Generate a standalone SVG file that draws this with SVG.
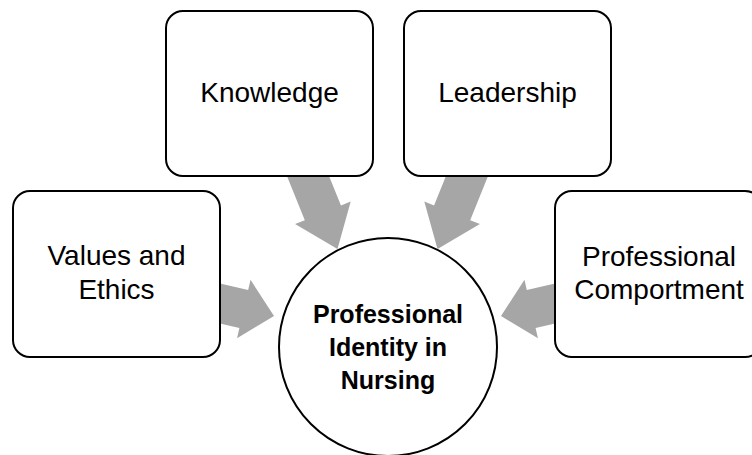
<svg xmlns="http://www.w3.org/2000/svg" width="752" height="455" viewBox="0 0 752 455">
<defs>
<style>
.arrow{fill:#A6A6A6;stroke:none}
.box{fill:#FFFFFF;stroke:#000000;stroke-width:2}
.lbl{font-family:"Liberation Sans",Arial,sans-serif;font-size:28px;fill:#000000;text-anchor:middle}
.ctr{font-family:"Liberation Sans",Arial,sans-serif;font-size:25px;font-weight:bold;fill:#000000;text-anchor:middle}
</style>
<polygon id="headS" points="0,0 -31,-30 -31,-19.5 -130,-19.5 -130,19.5 -31,19.5 -31,30"/>
<polygon id="headT" points="0,0 -39,-30 -39,-19.5 -130,-19.5 -130,19.5 -39,19.5 -39,30"/>
</defs>
<rect width="752" height="455" fill="#FFFFFF"/>
<g id="connectors">
<use href="#headS" class="arrow" transform="translate(274,316) rotate(13)"/>
<use href="#headT" class="arrow" transform="translate(337.5,249) rotate(68)"/>
<use href="#headT" class="arrow" transform="translate(437.5,249) rotate(112)"/>
<use href="#headS" class="arrow" transform="translate(501,316) rotate(167)"/>
</g>
<g id="knowledge">
<rect class="box" x="166" y="11" width="207" height="165" rx="17"/>
<text class="lbl" x="269.5" y="102">Knowledge</text>
</g>
<g id="leadership">
<rect class="box" x="404" y="11" width="207" height="165" rx="17"/>
<text class="lbl" x="507.5" y="102">Leadership</text>
</g>
<g id="values">
<rect class="box" x="13" y="191" width="207" height="166" rx="17"/>
<text class="lbl" x="116.5" y="265">Values and</text>
<text class="lbl" x="116.5" y="299">Ethics</text>
</g>
<g id="comportment">
<rect class="box" x="555" y="191" width="207" height="166" rx="17"/>
<text class="lbl" x="659" y="266">Professional</text>
<text class="lbl" x="659" y="299">Comportment</text>
</g>
<g id="center">
<circle class="box" cx="388" cy="347" r="109"/>
<text class="ctr" x="388" y="323">Professional</text>
<text class="ctr" x="388" y="356">Identity in</text>
<text class="ctr" x="388" y="389">Nursing</text>
</g>
</svg>
